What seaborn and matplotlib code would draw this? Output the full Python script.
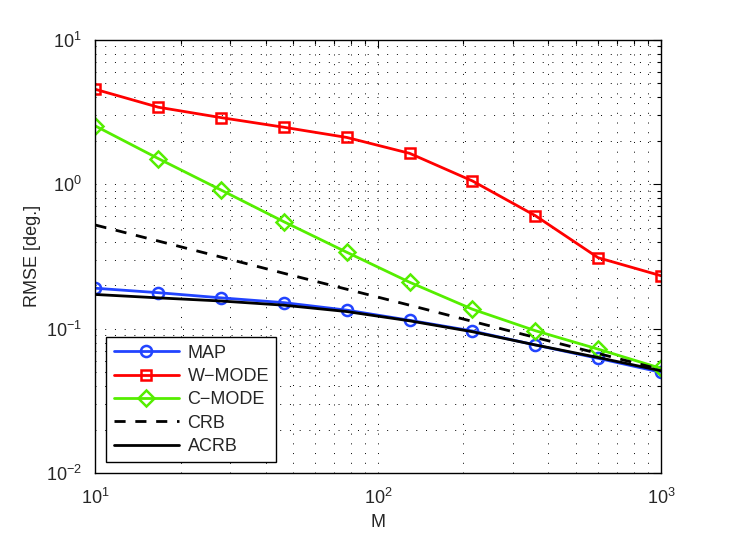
import numpy as np
import pandas as pd
import matplotlib
matplotlib.use("Agg")
import matplotlib.pyplot as plt
import seaborn as sns
from matplotlib.ticker import LogLocator, NullFormatter

M = [10, 16.68, 27.83, 46.42, 77.43, 129.2, 215.4, 359.4, 599.5, 1000]
MAP = [0.190, 0.177, 0.163, 0.151, 0.134, 0.114, 0.0961, 0.0769, 0.0622, 0.0498]
W_MODE = [4.52, 3.40, 2.88, 2.47, 2.10, 1.63, 1.05, 0.604, 0.309, 0.232]
C_MODE = [2.52, 1.50, 0.908, 0.548, 0.337, 0.209, 0.136, 0.0966, 0.072, 0.053]
CRB = [0.52, 0.403, 0.312, 0.241, 0.187, 0.145, 0.112, 0.0867, 0.0672, 0.052]
ACRB = [0.172, 0.163, 0.155, 0.145, 0.131, 0.113, 0.095, 0.077, 0.063, 0.051]

sns.set_style("white")
plt.rcParams['font.family'] = ['Liberation Sans', 'DejaVu Sans']
plt.rcParams['mathtext.fontset'] = 'custom'
plt.rcParams['mathtext.rm'] = 'Liberation Sans'

fig = plt.figure(figsize=(7.31, 5.34), dpi=100)
ax = fig.add_axes([0.1306, 0.1142, 0.7736, 0.8118])

df = pd.DataFrame({"M": M, "MAP": MAP, "W-MODE": W_MODE, "C-MODE": C_MODE,
                   "CRB": CRB, "ACRB": ACRB})

lw = 2.0
sns.lineplot(data=df, x="M", y="MAP", ax=ax, color="#2244ff", lw=lw, marker="o",
             markersize=8, markerfacecolor="none", markeredgecolor="#2244ff",
             markeredgewidth=1.8, label="MAP")
sns.lineplot(data=df, x="M", y="W-MODE", ax=ax, color="#ff0000", lw=lw, marker="s",
             markersize=7.5, markerfacecolor="none", markeredgecolor="#ff0000",
             markeredgewidth=1.8, label="W\u2212MODE")
sns.lineplot(data=df, x="M", y="C-MODE", ax=ax, color="#55ee00", lw=lw, marker="D",
             markersize=8, markerfacecolor="none", markeredgecolor="#55ee00",
             markeredgewidth=1.8, label="C\u2212MODE")
sns.lineplot(data=df, x="M", y="CRB", ax=ax, color="black", lw=lw, label="CRB",
             linestyle=(0, (4, 3.5)))
sns.lineplot(data=df, x="M", y="ACRB", ax=ax, color="black", lw=lw, label="ACRB")

ax.set_xscale("log")
ax.set_yscale("log")
ax.set_xlim(10, 1000)
ax.set_ylim(0.01, 10)

ax.xaxis.set_minor_locator(LogLocator(base=10, subs=np.arange(2, 10), numticks=20))
ax.yaxis.set_minor_locator(LogLocator(base=10, subs=np.arange(2, 10), numticks=20))
ax.xaxis.set_minor_formatter(NullFormatter())
ax.yaxis.set_minor_formatter(NullFormatter())

ax.set_axisbelow(True)
ax.grid(True, which="both", color="black", linestyle=(0, (1, 9)), linewidth=0.7)
ax.tick_params(which="both", direction="in", top=True, right=True, color="black",
               labelsize=13)
ax.tick_params(axis="y", which="major", pad=10)
ax.tick_params(axis="x", which="major", pad=11)
ax.tick_params(which="major", length=6, width=0.8)
ax.tick_params(which="minor", length=3, width=0.8)
for s in ax.spines.values():
    s.set_color("black")
    s.set_linewidth(1.0)

ax.set_xlabel("M", fontsize=13, labelpad=4)
ax.set_ylabel("RMSE [deg.]", fontsize=13, labelpad=3)

leg = ax.legend(loc="lower left", fontsize=13, frameon=True, fancybox=False,
                edgecolor="black", framealpha=1, handlelength=3.6,
                borderaxespad=0.6, labelspacing=0.35, handletextpad=0.5,
                borderpad=0.4)
leg.get_frame().set_linewidth(1.0)

fig.savefig("out.png", dpi=100)
